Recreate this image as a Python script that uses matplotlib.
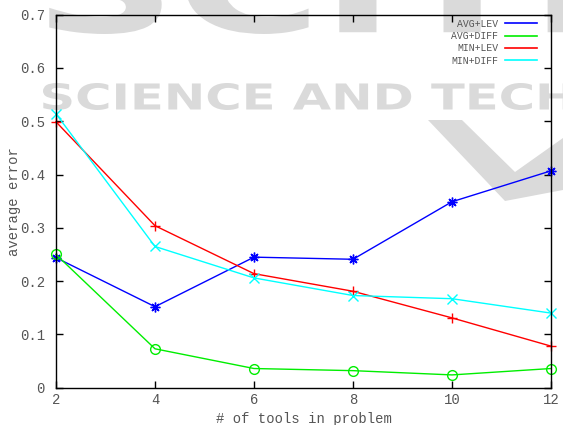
import matplotlib
matplotlib.use('Agg')
import matplotlib.pyplot as plt
from matplotlib.lines import Line2D
from matplotlib.patches import PathPatch, Polygon
from matplotlib.textpath import TextPath
from matplotlib.font_manager import FontProperties
from matplotlib.transforms import Affine2D

# average error per number of tools
tools = [2, 4, 6, 8, 10, 12]
avg_lev = [0.244, 0.152, 0.245, 0.241, 0.349, 0.407]
avg_diff = [0.250, 0.073, 0.036, 0.032, 0.024, 0.036]
min_lev = [0.499, 0.304, 0.214, 0.181, 0.131, 0.078]
min_diff = [0.514, 0.265, 0.206, 0.173, 0.167, 0.140]
labels = ['AVG+LEV', 'AVG+DIFF', 'MIN+LEV', 'MIN+DIFF']
colors = ['#0000ff', '#00ee00', '#ff0000', '#00ffff']
markers = [(8, 2, 0), 'o', '+', 'x']

W, H = 563, 425
fig = plt.figure(figsize=(W / 100, H / 100), dpi=100)

# light publisher stamp behind the plot, drawn in pixel coordinates
bg = fig.add_axes([0, 0, 1, 1], zorder=0)
bg.set_xlim(0, W)
bg.set_ylim(H, 0)
bg.axis('off')
stamp = '#dadada'
bold = FontProperties(family='DejaVu Sans', weight='bold')


def fit_text(s, x0, x1, y0, y1):
    tp = TextPath((0, 0), s, prop=bold, size=10)
    ext = tp.get_extents()
    sx = (x1 - x0) / ext.width
    sy = (y1 - y0) / ext.height
    tr = Affine2D().translate(-ext.x0, -ext.y0).scale(sx, -sy).translate(x0, y1)
    bg.add_patch(PathPatch(tr.transform_path(tp), color=stamp, lw=0))


fit_text('SCIENCE AND TECH', 43, 572, 83, 110)
fit_text('SCITE', 48, 650, -60, 34)
bg.add_patch(Polygon([(428, 120), (462, 120), (515, 172), (563, 138),
                      (563, 190), (505, 201)], closed=True, color=stamp, lw=0))

ax = fig.add_axes([56 / W, 1 - 387.7 / H, 495 / W, 373 / H], zorder=1)
ax.set_facecolor('none')

series = [avg_lev, avg_diff, min_lev, min_diff]
for vals, col, mk in zip(series, colors, markers):
    ax.plot(tools, vals, color=col, lw=1.0, marker=mk, markersize=7,
            markerfacecolor='none', markeredgecolor=col, markeredgewidth=1.0,
            clip_on=False)

ax.set_xlim(2, 12)
ax.set_ylim(0, 0.7)
ax.set_xticks(tools)
ax.set_yticks([0, 0.1, 0.2, 0.3, 0.4, 0.5, 0.6, 0.7])
ax.set_yticklabels(['0', '0.1', '0.2', '0.3', '0.4', '0.5', '0.6', '0.7'])

mono = 'Liberation Mono'
ax.tick_params(direction='in', length=5, width=1, top=True, right=True,
               colors='black', labelcolor='#555555', labelsize=10)
ax.tick_params(axis='y', pad=8)
ax.tick_params(axis='x', pad=4)
for lab in ax.get_xticklabels() + ax.get_yticklabels():
    lab.set_family(mono)
for sp in ax.spines.values():
    sp.set_linewidth(1.0)

ax.set_xlabel('# of tools in problem', family=mono, fontsize=10, color='#555555')
ax.xaxis.set_label_coords(0.5, -0.064)
ax.set_ylabel('average error', family=mono, fontsize=10, color='#555555')
ax.yaxis.set_label_coords(-0.0707, 0.5)

handles = [Line2D([], [], color=c, lw=1.2) for c in colors]
ax.legend(handles, labels, loc='upper right', bbox_to_anchor=(0.98, 1.0),
          frameon=False, markerfirst=False,
          prop={'family': mono, 'size': 7}, labelcolor='#555555',
          handlelength=3.3, labelspacing=0.25, handletextpad=0.7,
          borderaxespad=0.0)

fig.savefig('out.png', dpi=100)
